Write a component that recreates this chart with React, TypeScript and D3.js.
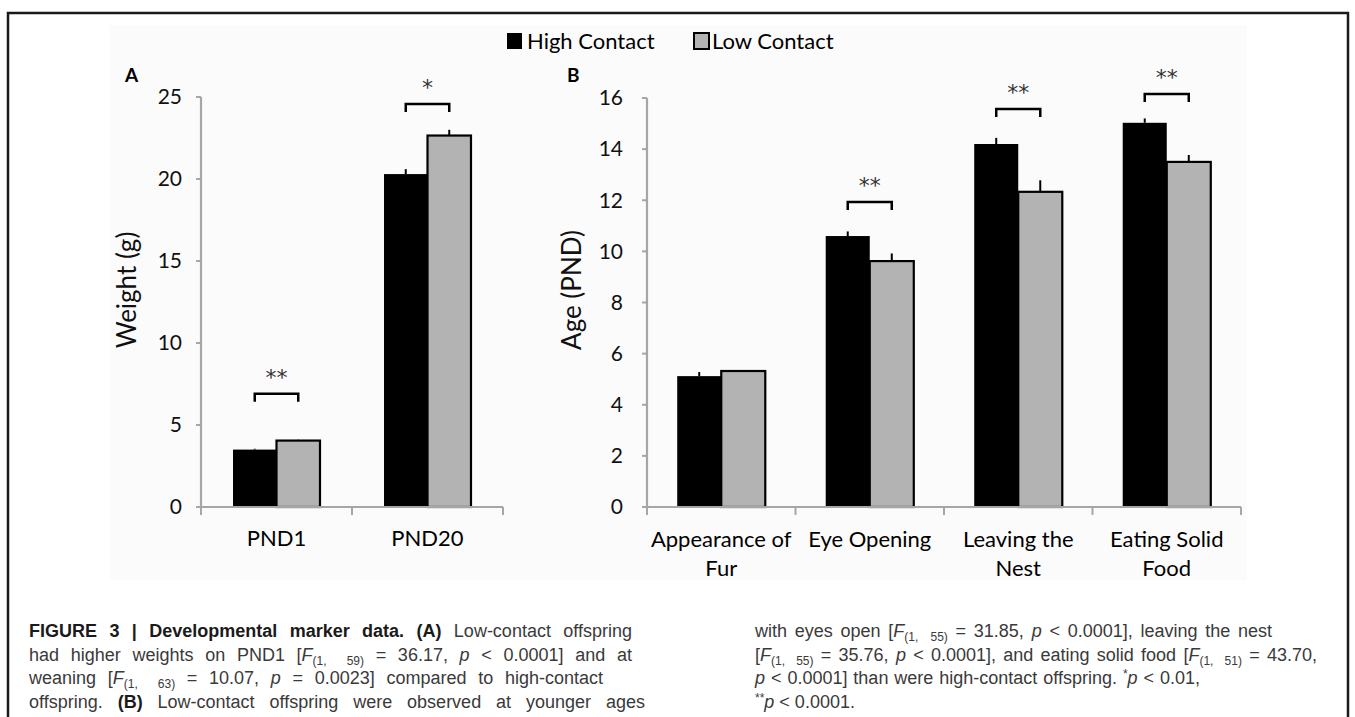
import { useEffect, useRef } from 'react';
import * as d3 from 'd3';

// ── Data ────────────────────────────────────────────────
const SERIES = ['High Contact', 'Low Contact'];
const COLORS = ['#000000', '#b3b3b3'];

const weightCats = ['PND1', 'PND20'];
const weightHigh = [3.5, 20.3];
const weightLow = [4.05, 22.65];
const weightHighErr = [0.05, 0.3];
const weightLowErr = [0.05, 0.35];
const weightTicks = [0, 5, 10, 15, 20, 25];

const ageCats = ['Appearance of Fur', 'Eye Opening', 'Leaving the Nest', 'Eating Solid Food'];
const ageCatLines = [['Appearance of', 'Fur'], ['Eye Opening'], ['Leaving the', 'Nest'], ['Eating Solid', 'Food']];
const ageHigh = [5.12, 10.6, 14.2, 15.03];
const ageLow = [5.32, 9.62, 12.33, 13.5];
const ageHighErr = [0.16, 0.18, 0.24, 0.17];
const ageLowErr = [0.04, 0.3, 0.45, 0.27];
const ageTicks = [0, 2, 4, 6, 8, 10, 12, 14, 16];

const weightSig = [{ cat: 'PND1', level: 6.9, mark: '**' }, { cat: 'PND20', level: 24.57, mark: '*' }];
const ageSig = [
  { cat: 'Eye Opening', level: 11.93, mark: '**' },
  { cat: 'Leaving the Nest', level: 15.57, mark: '**' },
  { cat: 'Eating Solid Food', level: 16.16, mark: '**' },
];

type Seg = { t: string; b?: boolean; i?: boolean; sub?: boolean; sup?: boolean };
const captionLeft: Seg[][] = [
  [{ t: 'FIGURE 3 | Developmental marker data. (A)', b: true }, { t: ' Low-contact offspring' }],
  [{ t: 'had higher weights on PND1 [' }, { t: 'F', i: true }, { t: '(1,  59)', sub: true }, { t: ' = 36.17, ' }, { t: 'p', i: true }, { t: ' < 0.0001] and at' }],
  [{ t: 'weaning [' }, { t: 'F', i: true }, { t: '(1,  63)', sub: true }, { t: ' = 10.07, ' }, { t: 'p', i: true }, { t: ' = 0.0023] compared to high-contact' }],
  [{ t: 'offspring. ' }, { t: '(B)', b: true }, { t: ' Low-contact offspring were observed at younger ages' }],
];
const captionRight: Seg[][] = [
  [{ t: 'with eyes open [' }, { t: 'F', i: true }, { t: '(1,  55)', sub: true }, { t: ' = 31.85, ' }, { t: 'p', i: true }, { t: ' < 0.0001], leaving the nest' }],
  [{ t: '[' }, { t: 'F', i: true }, { t: '(1,  55)', sub: true }, { t: ' = 35.76, ' }, { t: 'p', i: true }, { t: ' < 0.0001], and eating solid food [' }, { t: 'F', i: true }, { t: '(1,  51)', sub: true }, { t: ' = 43.70,' }],
  [{ t: 'p', i: true }, { t: ' < 0.0001] than were high-contact offspring. ' }, { t: '*', sup: true }, { t: 'p', i: true }, { t: ' < 0.01,' }],
  [{ t: '**', sup: true }, { t: 'p', i: true }, { t: ' < 0.0001.' }],
];

// ── Layout ──────────────────────────────────────────────
const W = 1355;
const H = 717;
const Y0 = 507;
const FONT = 'Lato, "Open Sans", sans-serif';
const CAP_FONT = '"Liberation Sans Narrow", "Liberation Sans", Arial, sans-serif';
const AXIS = '#a6a6a6';

const yA = d3.scaleLinear().domain([0, 25]).range([Y0, 97]);
const xA = d3.scaleBand().domain(weightCats).range([201, 503]);
const yB = d3.scaleLinear().domain([0, 16]).range([Y0, 98]);
const xB = d3.scaleBand().domain(ageCats).range([647, 1241]);

function Panel({ cats, high, low, highErr, lowErr, x, y, frac, ticks, sig, label, yLabel, labelX, tickGap }: any) {
  const bw = x.bandwidth();
  const groupW = bw * frac;
  const barW = groupW / 2;
  const inner = d3.scaleBand().domain(SERIES).range([(bw - groupW) / 2, (bw + groupW) / 2]);
  const [xmin, xmax] = x.range();
  const vals = [high, low];
  const errs = [highErr, lowErr];
  const boundaries = [...cats.map((c: string) => x(c)), xmax];
  return (
    <g>
      {/* axes */}
      <line x1={xmin} x2={xmin} y1={y.range()[1]} y2={Y0} stroke={AXIS} strokeWidth={2.2} />
      {ticks.map((t: number) => (
        <g key={t}>
          <line x1={xmin - 5} x2={xmin} y1={y(t)} y2={y(t)} stroke={AXIS} strokeWidth={2} />
          <text x={xmin - tickGap} y={y(t)} dy="0.35em" textAnchor="end" fontFamily={FONT} fontSize={21} fill="#111">{t}</text>
        </g>
      ))}
      {/* bars */}
      {cats.map((c: string, ci: number) =>
        SERIES.map((s, si) => {
          const bx = x(c) + inner(s);
          const v = vals[si][ci];
          return (
            <g key={c + s}>
              <line x1={bx + barW / 2} x2={bx + barW / 2} y1={y(v)} y2={y(v + errs[si][ci])} stroke="#000" strokeWidth={2} />
              <rect x={bx} y={y(v)} width={barW} height={Y0 - y(v)} fill={COLORS[si]} stroke="#000" strokeWidth={si === 1 ? 2.2 : 0} />
            </g>
          );
        })
      )}
      <line x1={xmin} x2={xmax} y1={Y0} y2={Y0} stroke={AXIS} strokeWidth={2.2} />
      {boundaries.map((bx: number, i: number) => (
        <line key={i} x1={bx} x2={bx} y1={Y0} y2={Y0 + 8} stroke={AXIS} strokeWidth={2} />
      ))}
      {/* significance */}
      {sig.map((sg: any) => {
        const x1 = x(sg.cat) + inner(SERIES[0]) + barW / 2;
        const x2 = x(sg.cat) + inner(SERIES[1]) + barW / 2;
        const by = y(sg.level);
        return (
          <g key={sg.cat}>
            <path d={`M${x1},${by + 8}V${by}H${x2}V${by + 8}`} fill="none" stroke="#000" strokeWidth={2.5} />
            <text x={(x1 + x2) / 2} y={by - 9} textAnchor="middle" fontFamily='"DejaVu Sans", sans-serif' fontSize={22} fill="#333">{sg.mark}</text>
          </g>
        );
      })}
      {/* labels */}
      <text x={labelX[0]} y={82} fontFamily={FONT} fontWeight="bold" fontSize={19} fill="#000">{label}</text>
      <text transform={`translate(${labelX[1]},290) rotate(-90)`} textAnchor="middle" dy="0.35em" fontFamily={FONT} fontSize={26} fill="#111">{yLabel}</text>
    </g>
  );
}

function CaptionLine({ segs, x, y, target }: { segs: Seg[]; x: number; y: number; target?: number }) {
  const ref = useRef<SVGTextElement>(null);
  useEffect(() => {
    const el = ref.current;
    if (!el || !target) return;
    el.setAttribute('word-spacing', '0');
    const w = el.getComputedTextLength();
    const spaces = (el.textContent || '').split(' ').length - 1;
    if (spaces > 0) el.setAttribute('word-spacing', String(Math.max(0, (target - w) / spaces)));
  }, [segs, target]);
  let shift = 0;
  return (
    <text ref={ref} x={x} y={y} fontFamily={CAP_FONT} fontSize={18} fill="#3a3a3a" style={{ whiteSpace: 'pre' }}>
      {segs.map((s, i) => {
        const want = s.sub ? 4 : s.sup ? -6 : 0;
        const dy = want - shift;
        shift = want;
        return (
          <tspan key={i} dy={dy || undefined} fontWeight={s.b ? 'bold' : undefined} fill={s.b ? '#1a1a1a' : undefined}
            fontStyle={s.i ? 'italic' : undefined} fontSize={s.sub || s.sup ? 12 : undefined}>{s.t}</tspan>
        );
      })}
    </text>
  );
}

export default function App() {
  const leftTargets = [603, 603, 574, 616];
  const rightTargets = [517, 562, 445, undefined];
  return (
    <svg width={W} height={H} style={{ position: 'absolute', left: 0, top: 0, background: '#fff' }}>
      <rect x={0} y={0} width={W} height={H} fill="#fff" />
      <rect x={110} y={25} width={1137} height={555} fill="#fbfbfb" />
      <path d={`M8,${H}V13H1348V${H}`} fill="none" stroke="#1a1a1a" strokeWidth={2.5} />

      {/* legend */}
      {SERIES.map((s, i) => (
        <g key={s}>
          <rect x={[507, 694][i]} y={33} width={15} height={16} fill={COLORS[i]} stroke="#000" strokeWidth={i ? 2 : 0} />
          <text x={[527, 712][i]} y={49} fontFamily={FONT} fontSize={22} fill="#000">{s}</text>
        </g>
      ))}

      <Panel cats={weightCats} high={weightHigh} low={weightLow} highErr={weightHighErr} lowErr={weightLowErr}
        x={xA} y={yA} frac={0.576} ticks={weightTicks} sig={weightSig} label="A" yLabel="Weight (g)" labelX={[125, 127]} tickGap={19} />
      <Panel cats={ageCats} high={ageHigh} low={ageLow} highErr={ageHighErr} lowErr={ageLowErr}
        x={xB} y={yB} frac={0.593} ticks={ageTicks} sig={ageSig} label="B" yLabel="Age (PND)" labelX={[567, 572]} tickGap={24} />

      {/* category labels */}
      {weightCats.map(c => (
        <text key={c} x={xA(c)! + xA.bandwidth() / 2} y={546} textAnchor="middle" fontFamily={FONT} fontSize={22} fill="#000">{c}</text>
      ))}
      {ageCats.map((c, i) => ageCatLines[i].map((ln, j) => (
        <text key={c + j} x={xB(c)! + xB.bandwidth() / 2} y={547 + j * 29} textAnchor="middle" fontFamily={FONT} fontSize={22} fill="#000">{ln}</text>
      )))}

      {/* caption */}
      {captionLeft.map((segs, i) => (
        <CaptionLine key={'l' + i} segs={segs} x={29} y={637 + i * 23.7} target={leftTargets[i]} />
      ))}
      {captionRight.map((segs, i) => (
        <CaptionLine key={'r' + i} segs={segs} x={755} y={637 + i * 23.7} target={rightTargets[i]} />
      ))}
    </svg>
  );
}
